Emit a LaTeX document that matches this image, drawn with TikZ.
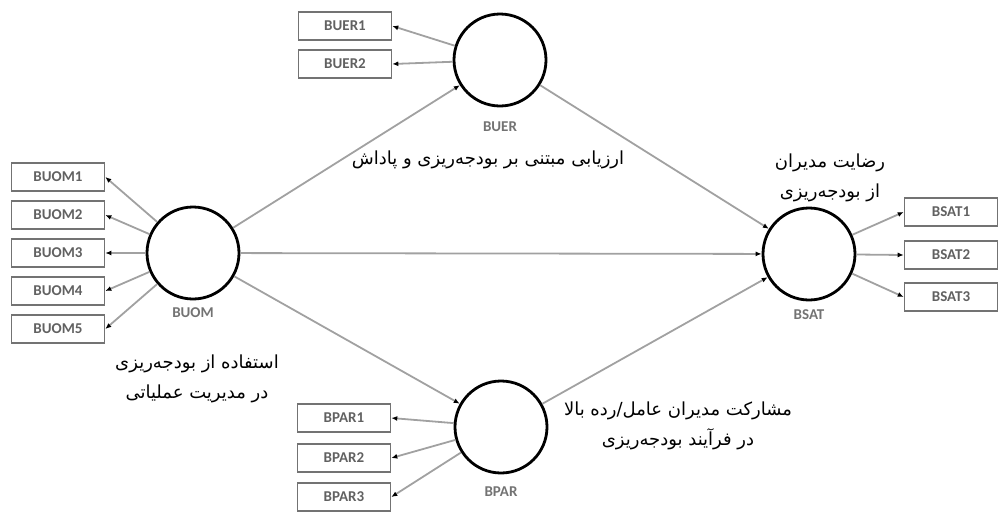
\documentclass[tikz,border=0pt]{standalone}
\usepackage{fontspec}
\setmainfont{Carlito}
\newfontfamily\fa[Script=Arabic]{DejaVu Sans}
\TeXXeTstate=1
\usetikzlibrary{arrows.meta}
\begin{document}
\begin{tikzpicture}[x=1pt,y=-1pt,
  lat/.style={circle,draw=black,line width=2.8pt,minimum size=92pt,inner sep=0pt},
  ind/.style={rectangle,draw=black!55,line width=1.6pt,minimum width=93pt,minimum height=28pt,inner sep=0pt,
    font=\fontsize{15}{16}\selectfont\bfseries,text=black!62},
  lbl/.style={font=\fontsize{15}{16}\selectfont\bfseries,text=black!55},
  fat/.style={font=\fa\fontsize{18}{30}\selectfont,align=center,text=black},
  con/.style={draw=black!37,line width=1.8pt,-{Latex[length=6pt,width=5pt,color=black]}}
]
\useasboundingbox (0,0) rectangle (999,512);
% latent variables
\node[lat] (buer) at (500,60) {};
\node[lat] (buom) at (193,253) {};
\node[lat] (bsat) at (809,254) {};
\node[lat] (bpar) at (501,427) {};
\node[lbl] (lbuer) at (500,127) {BUER};
\node[lbl] (lbuom) at (193,313) {BUOM};
\node[lbl] (lbsat) at (809,315) {BSAT};
\node[lbl] (lbpar) at (501,492) {BPAR};
% indicators
\node[ind] (buer1) at (345,26) {BUER1};
\node[ind] (buer2) at (345,64) {BUER2};
\node[ind] (buom1) at (58,177) {BUOM1};
\node[ind] (buom2) at (58,215) {BUOM2};
\node[ind] (buom3) at (58,253) {BUOM3};
\node[ind] (buom4) at (58,291) {BUOM4};
\node[ind] (buom5) at (58,329) {BUOM5};
\node[ind] (bsat1) at (951,212) {BSAT1};
\node[ind] (bsat2) at (951,255) {BSAT2};
\node[ind] (bsat3) at (951,297) {BSAT3};
\node[ind] (bpar1) at (344,418) {BPAR1};
\node[ind] (bpar2) at (344,458) {BPAR2};
\node[ind] (bpar3) at (344,497) {BPAR3};
% indicator arrows
\draw[con] (buer) -- (buer1.east);
\draw[con] (buer) -- (buer2.east);
\foreach \i in {1,...,5}{\draw[con] (buom) -- (buom\i.east);}
\foreach \i in {1,2,3}{\draw[con] (bsat) -- (bsat\i.west);}
\foreach \i in {1,2,3}{\draw[con] (bpar) -- (bpar\i.east);}
% structural arrows
\draw[con] (buom) -- (buer);
\draw[con] (buom) -- (bsat);
\draw[con] (buom) -- (bpar);
\draw[con] (buer) -- (bsat);
\draw[con] (bpar) -- (bsat);
% Persian labels
\node[fat] (t1) at (488,160) {\beginR ارزیابی مبتنی بر بودجه‌ریزی و پاداش\endR};
\node[fat] (t2) at (830,178) {\beginR رضایت مدیران\endR\\\beginR از بودجه‌ریزی\endR};
\node[fat] (t3) at (197,379) {\beginR استفاده از بودجه‌ریزی\endR\\\beginR در مدیریت عملیاتی\endR};
\node[fat] (t4) at (678,426) {\beginR مشارکت مدیران عامل/رده بالا\endR\\\beginR در فرآیند بودجه‌ریزی\endR};
\end{tikzpicture}
\end{document}
